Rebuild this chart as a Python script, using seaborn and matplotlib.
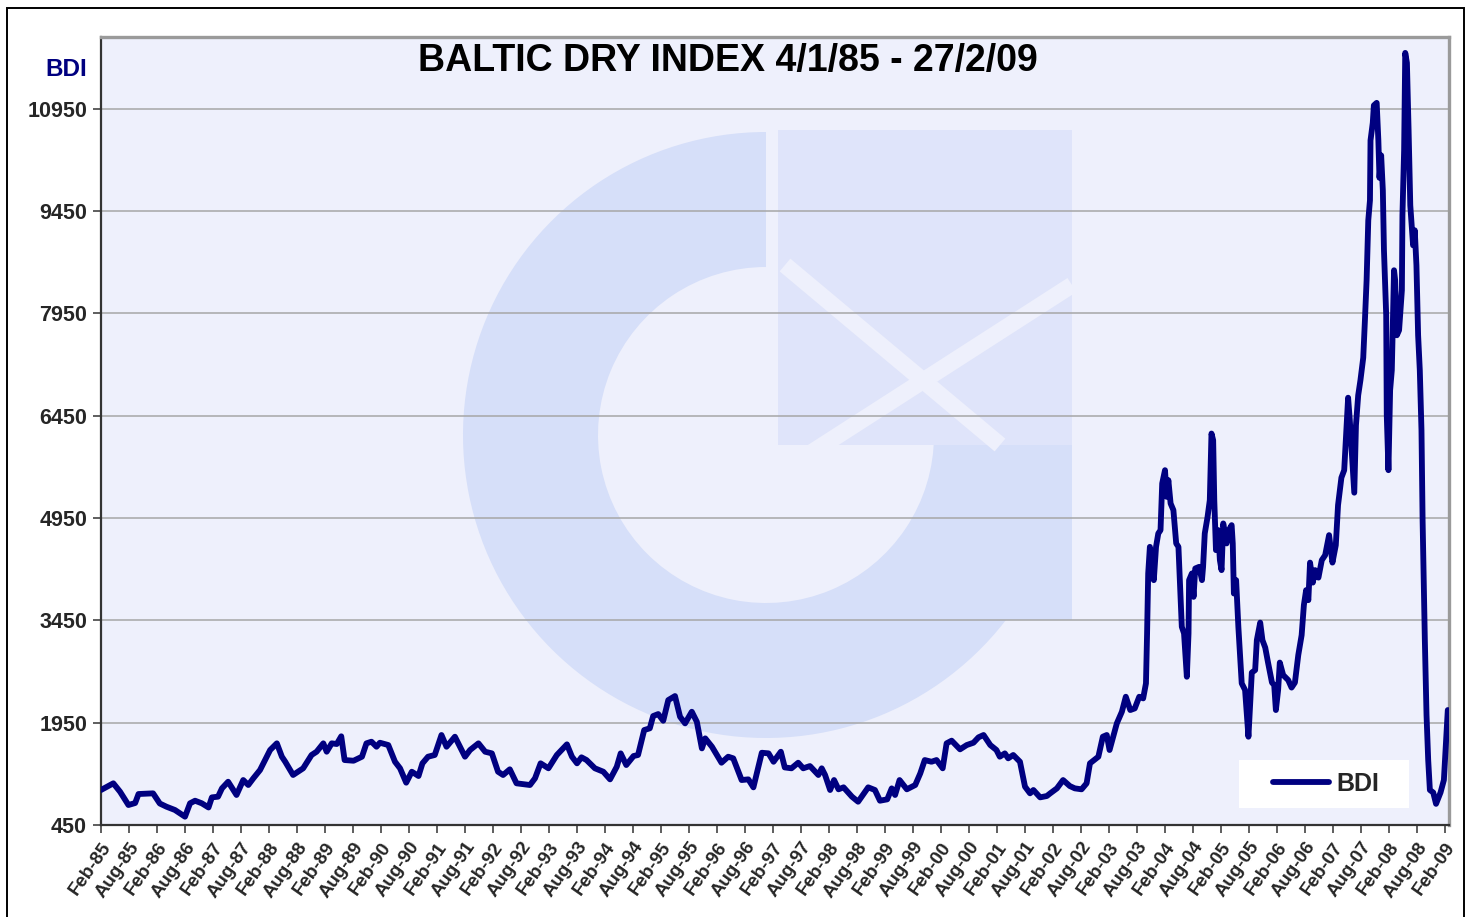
import matplotlib
matplotlib.use("Agg")
import matplotlib.pyplot as plt
import seaborn as sns
from matplotlib import patches
from matplotlib.transforms import Affine2D
from matplotlib.lines import Line2D

# years after the first point (4/1/85)
t_years = [0.00, 0.22, 0.34, 0.49, 0.61, 0.67, 0.93, 1.05, 1.17, 1.32, 1.50, 1.59, 1.68, 1.80,
           1.92, 1.98, 2.09, 2.16, 2.27, 2.42, 2.54, 2.63, 2.72, 2.84, 2.93, 3.02, 3.14, 3.23,
           3.29, 3.43, 3.61, 3.76, 3.85, 3.97, 4.03, 4.12, 4.21, 4.29, 4.35, 4.51, 4.66, 4.74,
           4.83, 4.92, 4.98, 5.13, 5.25, 5.34, 5.45, 5.55, 5.67, 5.74, 5.84, 5.96, 6.08, 6.17,
           6.32, 6.41, 6.50, 6.59, 6.74, 6.86, 6.98, 7.09, 7.18, 7.30, 7.42, 7.66, 7.75, 7.85,
           7.99, 8.14, 8.32, 8.41, 8.50, 8.58, 8.67, 8.82, 8.97, 9.09, 9.21, 9.28, 9.38, 9.51,
           9.59, 9.70, 9.80, 9.86, 9.95, 10.04, 10.13, 10.25, 10.34, 10.43, 10.55, 10.64, 10.73,
           10.79, 10.91, 11.08, 11.20, 11.29, 11.44, 11.56, 11.65, 11.74, 11.80, 11.92, 12.01,
           12.14, 12.21, 12.33, 12.45, 12.54, 12.66, 12.81, 12.87, 12.93, 13.02, 13.09, 13.17,
           13.26, 13.41, 13.52, 13.70, 13.82, 13.91, 14.04, 14.12, 14.18, 14.26, 14.39, 14.54,
           14.63, 14.71, 14.83, 14.92, 15.03, 15.10, 15.19, 15.34, 15.46, 15.58, 15.67, 15.76,
           15.88, 15.99, 16.05, 16.14, 16.20, 16.29, 16.41, 16.50, 16.59, 16.65, 16.77, 16.89,
           16.95, 17.07, 17.18, 17.30, 17.39, 17.51, 17.60, 17.66, 17.81, 17.89, 17.96, 18.01,
           18.09, 18.14, 18.23, 18.30, 18.38, 18.46, 18.54, 18.61, 18.66, 18.68, 18.70, 18.73,
           18.76, 18.80, 18.84, 18.88, 18.92, 18.95, 19.00, 19.03, 19.06, 19.10, 19.15, 19.20,
           19.24, 19.27, 19.30, 19.34, 19.39, 19.42, 19.43, 19.48, 19.51, 19.54, 19.61, 19.66,
           19.68, 19.71, 19.76, 19.80, 19.83, 19.86, 19.88, 19.91, 19.95, 19.98, 20.01, 20.04,
           20.10, 20.14, 20.19, 20.21, 20.23, 20.27, 20.31, 20.37, 20.43, 20.49, 20.55, 20.61,
           20.64, 20.70, 20.74, 20.79, 20.84, 20.91, 20.95, 20.98, 21.02, 21.05, 21.11, 21.20,
           21.26, 21.32, 21.38, 21.44, 21.48, 21.52, 21.56, 21.59, 21.64, 21.68, 21.74, 21.80,
           21.86, 21.93, 21.99, 22.05, 22.09, 22.15, 22.20, 22.24, 22.27, 22.30, 22.35, 22.38,
           22.41, 22.45, 22.49, 22.54, 22.57, 22.60, 22.63, 22.66, 22.67, 22.71, 22.73, 22.78,
           22.81, 22.83, 22.86, 22.89, 22.91, 22.95, 22.96, 22.99, 23.02, 23.05, 23.09, 23.11,
           23.14, 23.18, 23.23, 23.24, 23.27, 23.29, 23.32, 23.35, 23.38, 23.41, 23.43, 23.46,
           23.49, 23.52, 23.55, 23.58, 23.60, 23.64, 23.67, 23.70, 23.73, 23.79, 23.84, 23.92,
           23.98, 24.02, 24.05]

bdi = [963, 1061, 938, 743, 772, 904, 914, 765, 718, 670, 572, 768, 806, 768,
       707, 855, 865, 987, 1084, 890, 1109, 1036, 1134, 1256, 1402, 1549, 1647, 1451,
       1377, 1183, 1281, 1476, 1524, 1647, 1524, 1647, 1637, 1750, 1402, 1392, 1451, 1647,
       1671, 1597, 1656, 1622, 1377, 1281, 1070, 1231, 1168, 1354, 1451, 1476, 1769, 1597,
       1744, 1597, 1451, 1549, 1647, 1524, 1500, 1231, 1183, 1266, 1061, 1036, 1134, 1354,
       1281, 1476, 1632, 1451, 1354, 1442, 1402, 1281, 1231, 1119, 1304, 1500, 1329, 1461,
       1476, 1842, 1867, 2047, 2076, 1978, 2281, 2340, 2037, 1940, 2110, 1963, 1573,
       1720, 1597, 1363, 1451, 1427, 1109, 1119, 1002, 1304, 1509, 1500, 1377,
       1524, 1294, 1281, 1363, 1281, 1314, 1183, 1281, 1183, 963, 1109, 973,
       1002, 865, 791, 1002, 963, 806, 826, 987, 890, 1109, 973, 1036,
       1207, 1402, 1377, 1402, 1281, 1647, 1686, 1559, 1622, 1656, 1735, 1769,
       1622, 1549, 1451, 1500, 1427, 1476, 1377, 1012, 914, 963, 855, 875,
       914, 987, 1109, 1021, 987, 973, 1061, 1354, 1451, 1744, 1769, 1549,
       1793, 1940, 2110, 2330, 2135, 2159, 2330, 2306, 2526, 3258, 4137, 4527,
       4234, 4039, 4527, 4723, 4772, 5456, 5651, 5260, 5504, 5163, 5065, 4577,
       4527, 3941, 3355, 3258, 2623, 3258, 4039, 4137, 3794, 4210, 4234, 4039,
       4234, 4723, 4966, 5211, 6188, 6090, 5211, 4479, 4772, 4332, 4186, 4870,
       4577, 4772, 4845, 4577, 3843, 4039, 3355, 2526, 2428, 1744, 2684, 2721,
       3160, 3417, 3160, 3050, 2831, 2538, 2501, 2135, 2428, 2831, 2648, 2574,
       2464, 2538, 2941, 3233, 3673, 3893, 3746, 4296, 4003, 4186, 4076, 4332,
       4405, 4699, 4296, 4552, 5138, 5541, 5651, 6273, 6713, 6383, 5724, 5321,
       6310, 6749, 6969, 7299, 7848, 8434, 9313, 9606, 10485, 10741, 10998, 11035,
       10485, 9936, 10265, 9753, 8874, 7922, 6456, 5651, 6823, 7116, 8581, 8434,
       7628, 7702, 8288, 9386, 10339, 11767, 11620, 10632, 9533, 9167, 8947, 9167,
       8654, 7628, 7116, 6237, 4918, 3160, 2062, 1402, 963, 926, 760, 926,
       1109, 1695, 2135]

y_ticks = [450, 1950, 3450, 4950, 6450, 7950, 9450, 10950]
tick_years = list(range(85, 100)) + list(range(0, 10))
x_labels = [f"{m}-{y:02d}" for y in tick_years for m in ("Feb", "Aug")][:-1]
x_ticks = [i * 0.5 for i in range(len(x_labels))]

navy = "#000080"
bg = "#EEF0FC"

sns.set_style("white")
plt.rcParams["font.family"] = ["Liberation Sans", "DejaVu Sans"]

W, H = 1469, 917
fig = plt.figure(figsize=(W / 100, H / 100), dpi=100)
ax = fig.add_axes([101 / W, 1 - 825 / H, (1449 - 101) / W, (825 - 37) / H])
ax.set_facecolor(bg)
ax.set_axisbelow("line")

# faded logo behind the line, drawn in figure pixels (y up)
px = Affine2D().scale(0.01) + fig.dpi_scale_trans
wm = "#D6DFF9"
ax.add_patch(patches.Wedge((766, H - 435), 303, 90, 360, width=135, transform=px,
                           facecolor=wm, edgecolor="none", zorder=0.5))
ax.add_patch(patches.Rectangle((935, H - 620), 137, 175, transform=px,
                               facecolor=wm, edgecolor="none", zorder=0.5))
ax.add_patch(patches.Rectangle((778, H - 445), 294, 315, transform=px,
                               facecolor="#DFE4FA", edgecolor="none", zorder=0.5))
for (x0, y0, x1, y1) in [(660, 550, 1072, 285), (785, 265, 1000, 445)]:
    ax.add_line(Line2D([x0, x1], [H - y0, H - y1], transform=px, color=bg,
                       lw=12, solid_capstyle="butt", zorder=0.6))

# white legend box
ax.add_patch(patches.Rectangle((1239, H - 808), 170, 48, transform=px,
                               facecolor="white", edgecolor="none", zorder=4))

sns.lineplot(x=t_years, y=bdi, ax=ax, color=navy, linewidth=4.2, sort=False,
             estimator=None, label="BDI", zorder=3)

ax.set_xlim(0, (1449 - 101) / 56)
ax.set_ylim(450, 12000)
ax.set_yticks(y_ticks)
ax.set_yticklabels([str(v) for v in y_ticks], fontsize=15.5, fontweight="bold")
ax.set_xticks(x_ticks)
ax.set_xticklabels(x_labels, rotation=55, ha="right", rotation_mode="anchor",
                   fontsize=13.5, fontweight="bold")
ax.grid(axis="y", color="#A6A6A6", linewidth=1.1)
ax.grid(axis="x", visible=False)
ax.tick_params(axis="both", direction="out", length=6, width=1.1, color="#333333",
               left=True, bottom=True, pad=4)
ax.set_xlabel("")
ax.set_ylabel("")

for side in ("left", "bottom"):
    ax.spines[side].set_color("#333333")
    ax.spines[side].set_linewidth(1.6)
for side in ("top", "right"):
    ax.spines[side].set_color("#9A9A9A")
    ax.spines[side].set_linewidth(2.4)

leg = ax.legend(loc="center", bbox_to_anchor=((1326 - 101) / 1348, (825 - 784) / 788),
                frameon=False, handlelength=2.25, handletextpad=0.3,
                borderpad=0, prop={"weight": "bold", "size": 18}, borderaxespad=0)
leg.set_zorder(5)
for line in leg.get_lines():
    line.set_linewidth(4.2)

fig.text(728 / W, 1 - 61 / H, "BALTIC DRY INDEX 4/1/85 - 27/2/09", ha="center",
         va="center", fontsize=27, fontweight="bold", color="black")
fig.text(66 / W, 1 - 70 / H, "BDI", ha="center", va="center", fontsize=17.5,
         fontweight="bold", color=navy)

# outer border of the chart
fig.patches.append(patches.Rectangle((7 / W, -0.02), (1464 - 7) / W, 1.02 - 8 / H,
                                     transform=fig.transFigure, fill=False,
                                     edgecolor="black", linewidth=1.4))

fig.savefig("out.png", dpi=100)
